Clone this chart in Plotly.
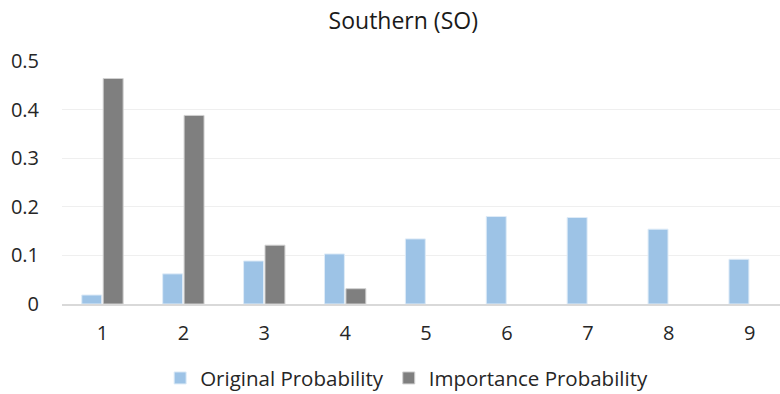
import plotly.graph_objects as go

categories = [1, 2, 3, 4, 5, 6, 7, 8, 9]
original_prob = [0.0185, 0.062, 0.0885, 0.103, 0.134, 0.180, 0.178, 0.154, 0.092]
importance_prob = [0.464, 0.388, 0.121, 0.0315, 0, 0, 0, 0, 0]
y_ticks = [0, 0.1, 0.2, 0.3, 0.4, 0.5]
y_tick_labels = ["0", "0.1", "0.2", "0.3", "0.4", "0.5"]

FONT = "Open Sans"
TXT = "#262626"

imp_line_w = [1 if v > 0 else 0 for v in importance_prob]

fig = go.Figure()
fig.add_trace(go.Bar(x=categories, y=original_prob, name="Original Probability",
                     marker=dict(color="#9DC3E6", line=dict(color="#DEEBF7", width=1))))
fig.add_trace(go.Bar(x=categories, y=importance_prob, name="Importance Probability",
                     marker=dict(color="#7F7F7F", line=dict(color="#D0D0D0", width=imp_line_w))))

fig.update_layout(
    width=780, height=394,
    margin=dict(l=62, r=0, t=61, b=90, autoexpand=False),
    paper_bgcolor="white", plot_bgcolor="white",
    font=dict(family=FONT, color=TXT, size=20),
    title=dict(text="Southern (SO)", x=0.517, xanchor="center", y=0.948, yanchor="middle",
               font=dict(family=FONT, size=23, color="#1a1a1a")),
    barmode="group", bargap=0.47, bargroupgap=0.07,
    showlegend=True,
    legend=dict(orientation="h", x=0.48, xanchor="center", y=-0.305, yanchor="middle",
                font=dict(family=FONT, size=20.5, color=TXT), itemwidth=30,
                traceorder="normal"),
)
fig.update_xaxes(range=[0.5, 9.375], tickvals=categories, ticktext=[str(c) for c in categories],
                 showgrid=False, showline=True, linecolor="#D9D9D9", linewidth=1.5,
                 ticks="", zeroline=False, ticklabelstandoff=10, automargin=False,
                 tickfont=dict(size=20, color=TXT))
fig.update_yaxes(range=[0, 0.5], tickvals=y_ticks, ticktext=y_tick_labels,
                 showgrid=True, gridcolor="#EFEFEF", gridwidth=1.2, zeroline=False,
                 showline=False, ticks="", ticklabelstandoff=22, automargin=False,
                 tickfont=dict(size=20, color=TXT))

fig.write_html("out.html")
